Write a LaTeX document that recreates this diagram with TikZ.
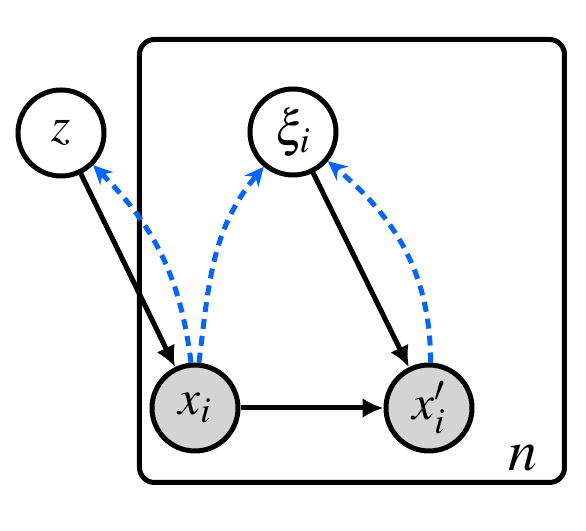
\documentclass[tikz,border=0pt]{standalone}
\usepackage{mathptmx}
\usetikzlibrary{arrows.meta, positioning}
\definecolor{infblue}{RGB}{0,102,255}
\definecolor{obsgray}{RGB}{212,212,212}

\begin{document}
\begin{tikzpicture}[
    x = 0.2mm, y = -0.2mm,
    >=Latex,
    font = \fontsize{28}{33}\selectfont,
    line width = 1mm,
    latent/.style={
      circle,
      draw = black,
      fill = white,
      minimum size = 17.2mm,
      inner sep = 0pt,
    },
    obs/.style={latent, fill = obsgray},
    gen/.style={-{Latex[length=4.2mm, width=4mm]}},
    inf/.style={
      infblue,
      dash pattern = on 2mm off 1.4mm,
      -{Stealth[length=3.8mm, width=3.6mm, inset=1.2mm]},
    },
  ]
  \useasboundingbox (0,0) rectangle (586,531);
  \draw[rounded corners = 3mm] (139.5,39.5) rectangle (564.5,482.5);
  \node[latent] (z) at (61,133) {$z$};
  \node[latent] (xi) at (293,132) {$\xi_i$};
  \node[obs] (x) at (195,408) {$x_i$};
  \node[obs, right = 28.6mm of x] (xp) {$x'_i$};
  \node[font = \fontsize{33}{38}\selectfont] (n) at (523,458) {$n$};
  \draw[gen] (z) -- (x);
  \draw[gen] (xi) -- (xp);
  \draw[gen] (x) -- (xp);
  \draw[inf] (x.95) to[out=97, in=-45] (z);
  \draw[inf] (x.85) to[out=83, in=-130] (xi);
  \draw[inf] (xp.88) to[out=90, in=-40] (xi);
\end{tikzpicture}
\end{document}
